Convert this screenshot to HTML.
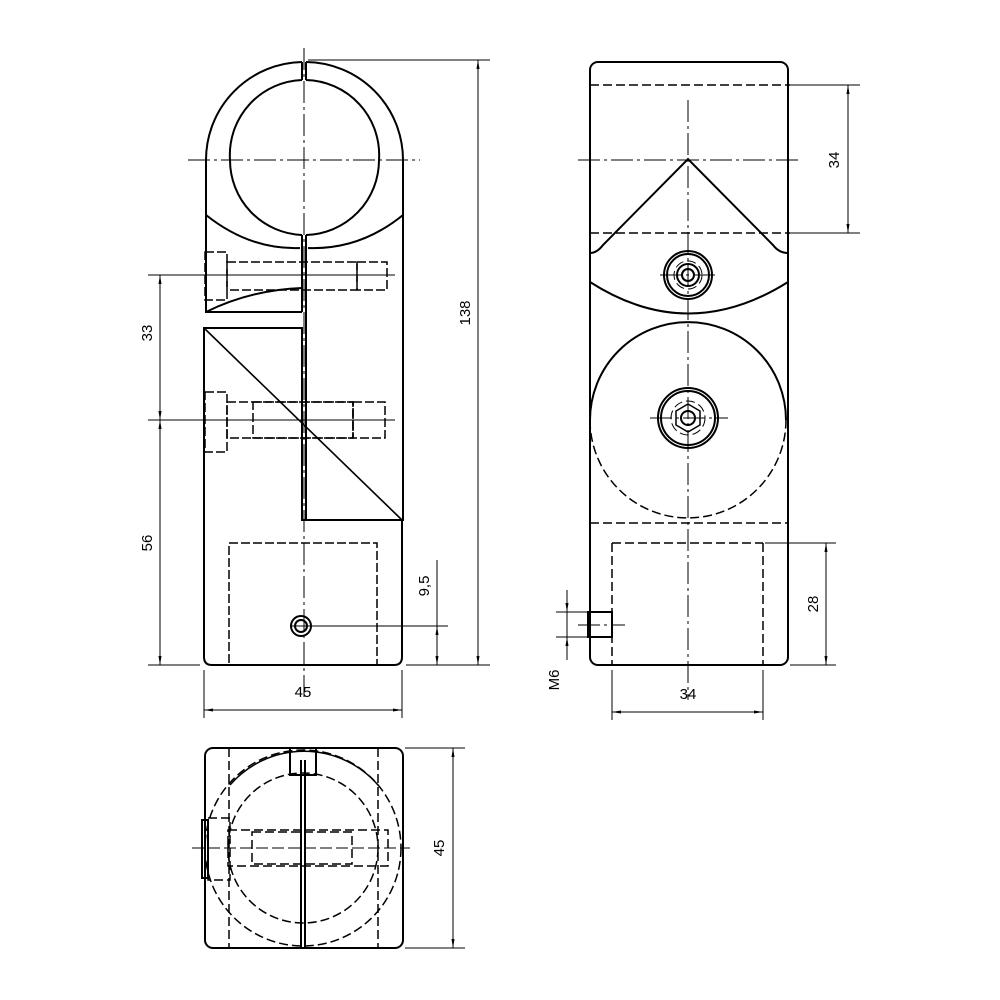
<!DOCTYPE html>
<html><head><style>html,body{margin:0;padding:0;background:#fff}svg{display:block}</style></head>
<body>
<svg width="1000" height="1000" viewBox="0 0 1000 1000" xmlns="http://www.w3.org/2000/svg" font-family="Liberation Sans, sans-serif" font-size="15">
<defs>
<marker id="a" viewBox="0 0 10 10" refX="10" refY="5" markerWidth="9" markerHeight="9" orient="auto-start-reverse"><path d="M0,3.3 L10,5 L0,6.7z" fill="#000"/></marker>
</defs>
<g fill="none" stroke="#000">
<!-- ===== FRONT VIEW ===== -->
<g stroke-width="2">
<path d="M302,62 A98,98 0 0 0 206,160 L206,312 L302,312"/>
<path d="M306,62 A98,98 0 0 1 403,160 L403,520 L306,520"/>
<line x1="302" y1="62" x2="302" y2="80"/><line x1="306" y1="62" x2="306" y2="80"/>
<path d="M302,80 A75,75 0 0 0 230,160 A75,75 0 0 0 302,235"/>
<path d="M306,80 A75,75 0 0 1 379,160 A75,75 0 0 1 306,235"/>
<path d="M206,215 Q250,250 300,248"/><path d="M403,215 Q360,250 308,248"/>
<line x1="302" y1="235" x2="302" y2="312"/><line x1="306" y1="235" x2="306" y2="520"/>
<path d="M206,312 Q250,290 302,288"/>
<path d="M302,328 L204,328 L204,657 Q204,665 212,665 L394,665 Q402,665 402,657 L402,520 L302,520 Z"/>
<line x1="204" y1="328" x2="402" y2="520" stroke-width="1.6"/>
<circle cx="301" cy="626" r="10"/><circle cx="301" cy="626" r="6"/>
</g>
<g stroke-width="1.5" stroke-dasharray="9,3">
<rect x="229" y="543" width="148" height="122"/>
<rect x="205" y="252" width="22" height="48"/><rect x="227" y="262" width="130" height="28"/><rect x="357" y="262" width="30" height="28"/>
<rect x="205" y="392" width="22" height="60"/><rect x="227" y="402" width="126" height="36"/><rect x="253" y="402" width="100" height="36"/><rect x="353" y="402" width="32" height="36"/>
</g>
<g stroke-width="1" stroke-dasharray="22,4,3,4">
<line x1="304" y1="48" x2="304" y2="700"/><line x1="188" y1="160" x2="420" y2="160"/>
</g>
<g stroke-width="1">
<line x1="148" y1="275" x2="395" y2="275"/><line x1="148" y1="420" x2="395" y2="420"/>
<line x1="148" y1="665" x2="200" y2="665"/><line x1="308" y1="60" x2="490" y2="60"/>
<line x1="406" y1="665" x2="490" y2="665"/><line x1="290" y1="626" x2="448" y2="626"/>
<line x1="204" y1="670" x2="204" y2="718"/><line x1="402" y1="670" x2="402" y2="718"/>
<line x1="160" y1="275" x2="160" y2="420" marker-start="url(#a)" marker-end="url(#a)"/>
<line x1="160" y1="420" x2="160" y2="665" marker-start="url(#a)" marker-end="url(#a)"/>
<line x1="478" y1="60" x2="478" y2="665" marker-start="url(#a)" marker-end="url(#a)"/>
<line x1="437" y1="626" x2="437" y2="665" marker-start="url(#a)" marker-end="url(#a)"/>
<line x1="437" y1="560" x2="437" y2="626"/>
<line x1="204" y1="710" x2="402" y2="710" marker-start="url(#a)" marker-end="url(#a)"/>
</g>
<!-- ===== SIDE VIEW ===== -->
<g stroke-width="2">
<rect x="590" y="62" width="198" height="603" rx="8"/>
<path d="M590,253 Q597,253 603,245 L688,159 L773,245 Q779,253 788,253"/>
<path d="M590,282 Q688,345 788,282"/>
<path d="M590,420 A98,98 0 0 1 786,420"/>
<circle cx="688" cy="275" r="24"/><circle cx="688" cy="275" r="21"/><circle cx="688" cy="275" r="11"/><circle cx="688" cy="275" r="6"/>
<circle cx="688" cy="418" r="30"/><circle cx="688" cy="418" r="27"/><circle cx="688" cy="418" r="7"/>
<polygon points="688,404 700,411 700,425 688,432 676,425 676,411" stroke-width="1.5"/>
<rect x="588" y="612" width="24" height="25"/>
</g>
<g stroke-width="1.5" stroke-dasharray="9,4">
<line x1="590" y1="85" x2="790" y2="85"/><line x1="590" y1="233" x2="790" y2="233"/>
<line x1="590" y1="523" x2="788" y2="523"/>
<path d="M590,420 A98,98 0 0 0 786,420"/>
<path d="M612,543 L612,665 M763,543 L763,665 M612,543 L763,543"/>
<circle cx="688" cy="418" r="17" stroke-width="1"/><circle cx="688" cy="275" r="14" stroke-width="1"/>
</g>
<g stroke-width="1" stroke-dasharray="22,4,3,4">
<line x1="688" y1="100" x2="688" y2="700"/><line x1="578" y1="160" x2="800" y2="160"/>
<line x1="660" y1="275" x2="718" y2="275"/><line x1="650" y1="418" x2="728" y2="418"/>
<line x1="578" y1="625" x2="625" y2="625"/>
</g>
<g stroke-width="1">
<line x1="790" y1="85" x2="860" y2="85"/><line x1="790" y1="233" x2="860" y2="233"/>
<line x1="848" y1="85" x2="848" y2="233" marker-start="url(#a)" marker-end="url(#a)"/>
<line x1="765" y1="543" x2="836" y2="543"/><line x1="790" y1="665" x2="836" y2="665"/>
<line x1="826" y1="543" x2="826" y2="665" marker-start="url(#a)" marker-end="url(#a)"/>
<line x1="612" y1="670" x2="612" y2="720"/><line x1="763" y1="670" x2="763" y2="720"/>
<line x1="612" y1="712" x2="763" y2="712" marker-start="url(#a)" marker-end="url(#a)"/>
<line x1="556" y1="612" x2="588" y2="612"/><line x1="556" y1="637" x2="588" y2="637"/>
<line x1="567" y1="590" x2="567" y2="612" marker-end="url(#a)"/>
<line x1="567" y1="660" x2="567" y2="637" marker-end="url(#a)"/>
<line x1="567" y1="612" x2="567" y2="637"/>
</g>
<!-- ===== BOTTOM VIEW ===== -->
<g stroke-width="2">
<rect x="205" y="748" width="198" height="200" rx="8"/>
<line x1="301" y1="760" x2="301" y2="948"/><line x1="305" y1="760" x2="305" y2="948"/>
<path d="M290,748 L290,775 L316,775 L316,748"/>
<rect x="202" y="820" width="6" height="58"/>
<path d="M230,785 A98,98 0 0 1 378,785" stroke-width="1.5"/>
</g>
<g stroke-width="1.5" stroke-dasharray="9,4">
<circle cx="303" cy="848" r="98"/><circle cx="303" cy="848" r="75"/>
<line x1="229" y1="748" x2="229" y2="948"/><line x1="378" y1="748" x2="378" y2="948"/>
<rect x="228" y="830" width="160" height="36"/><rect x="252" y="832" width="100" height="32"/>
<rect x="208" y="818" width="22" height="62"/>
</g>
<g stroke-width="1" stroke-dasharray="12,4">
<line x1="192" y1="848" x2="410" y2="848"/>
</g>
<g stroke-width="1">
<line x1="405" y1="748" x2="465" y2="748"/><line x1="405" y1="948" x2="465" y2="948"/>
<line x1="453" y1="748" x2="453" y2="948" marker-start="url(#a)" marker-end="url(#a)"/>
</g>
</g>
<g fill="#000">
<text x="303" y="697" text-anchor="middle">45</text>
<text x="688" y="699" text-anchor="middle">34</text>
<text transform="translate(152,333) rotate(-90)" text-anchor="middle">33</text>
<text transform="translate(152,543) rotate(-90)" text-anchor="middle">56</text>
<text transform="translate(470,313) rotate(-90)" text-anchor="middle">138</text>
<text transform="translate(429,586) rotate(-90)" text-anchor="middle">9,5</text>
<text transform="translate(839,160) rotate(-90)" text-anchor="middle">34</text>
<text transform="translate(818,604) rotate(-90)" text-anchor="middle">28</text>
<text transform="translate(559,680) rotate(-90)" text-anchor="middle">M6</text>
<text transform="translate(444,848) rotate(-90)" text-anchor="middle">45</text>
</g>
</svg>
</body></html>
